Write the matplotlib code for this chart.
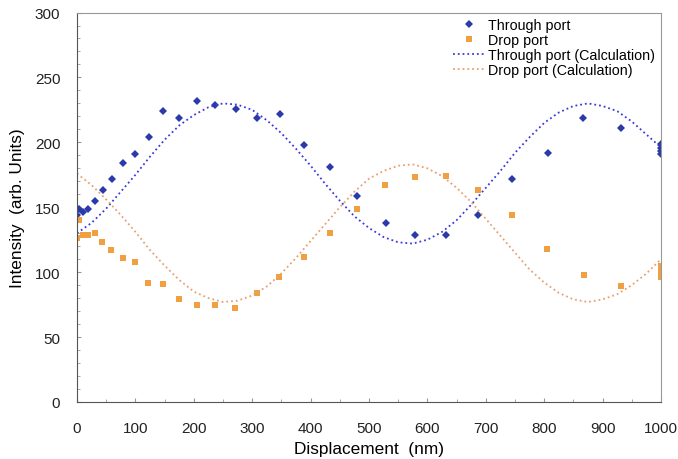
import matplotlib.pyplot as plt
from matplotlib.ticker import MultipleLocator

plt.rcParams['font.family'] = ['Liberation Sans', 'DejaVu Sans']

thr_x = [0, 3, 10, 19, 31, 45, 60, 79, 100, 123, 148, 175, 205, 237, 272, 308,
         348, 389, 434, 479, 529, 579, 632, 687, 745, 806, 867, 932, 1000, 1000,
         1000, 1000]
thr_y = [144, 149, 146, 149, 155, 163, 172, 184, 191, 204, 224, 219, 232, 229,
         226, 219, 222, 198, 181, 159, 138, 129, 129, 144, 172, 192, 219, 211,
         199, 196, 193, 191]

drop_x = [0, 3, 11, 19, 30, 43, 59, 78, 99, 122, 147, 174, 205, 237, 271, 308,
          346, 388, 433, 479, 527, 578, 632, 686, 744, 805, 868, 932, 1000,
          1000, 1000]
drop_y = [126, 140, 129, 129, 130, 123, 117, 111, 108, 92, 91, 79, 75, 75, 72,
          84, 96, 112, 130, 149, 167, 173, 174, 163, 144, 118, 98, 89, 105, 101,
          96]

# calculated curves, read every 25 nm
calc_x = list(range(0, 1001, 25))
thr_calc = [130, 138, 149, 162, 175, 189, 202, 213, 221, 227, 230, 229, 225,
            217, 207, 195, 182, 168, 155, 143, 134, 127, 123, 122, 125, 131,
            140, 152, 165, 178, 192, 204, 215, 223, 228, 230, 228, 224, 216,
            206, 196]
drop_calc = [176, 167, 156, 144, 131, 117, 105, 94, 85, 80, 77, 78, 82, 89,
             99, 111, 124, 137, 150, 162, 172, 178, 182, 183, 180, 174, 165,
             154, 141, 128, 115, 102, 92, 84, 79, 77, 79, 83, 90, 99, 110]

fig = plt.figure(figsize=(6.78, 4.6), dpi=100)
ax = fig.add_axes([0.1136, 0.124, 0.8614, 0.8466])

ax.plot(thr_x, thr_y, 'D', color='#2a3aa8', ms=4, mew=0, label='Through port')
ax.plot(drop_x, drop_y, 's', color='#f0a040', ms=4, mew=0, label='Drop port')
ax.plot(calc_x, thr_calc, ':', color='#3a3ad8', lw=1.3,
        label='Through port (Calculation)')
ax.plot(calc_x, drop_calc, ':', color='#e8a070', lw=1.3,
        label='Drop port (Calculation)')

ax.set_xlim(0, 1000)
ax.set_ylim(0, 300)
ax.xaxis.set_major_locator(MultipleLocator(100))
ax.xaxis.set_minor_locator(MultipleLocator(50))
ax.yaxis.set_major_locator(MultipleLocator(50))
ax.yaxis.set_minor_locator(MultipleLocator(10))
ax.tick_params(which='both', direction='in', color='#999999',
               labelcolor='#222222', labelsize=11)
ax.tick_params(which='major', length=3)
ax.tick_params(which='minor', length=2)
ax.tick_params(axis='x', which='major', pad=14)
ax.tick_params(axis='y', which='major', pad=12)
for side in ['left', 'bottom']:
    ax.spines[side].set_color('#555555')
for side in ['top', 'right']:
    ax.spines[side].set_color('#999999')

ax.set_xlabel('Displacement  (nm)', fontsize=12.4, labelpad=4)
ax.set_ylabel('Intensity  (arb. Units)', fontsize=12.4, labelpad=7)

leg = ax.legend(loc='upper left', bbox_to_anchor=(0.644, 0.985),
                fontsize=10.3, labelspacing=0.05, handlelength=2.24,
                handletextpad=0.2, borderaxespad=0, borderpad=0,
                frameon=False, numpoints=1)

fig.savefig('out.png')
